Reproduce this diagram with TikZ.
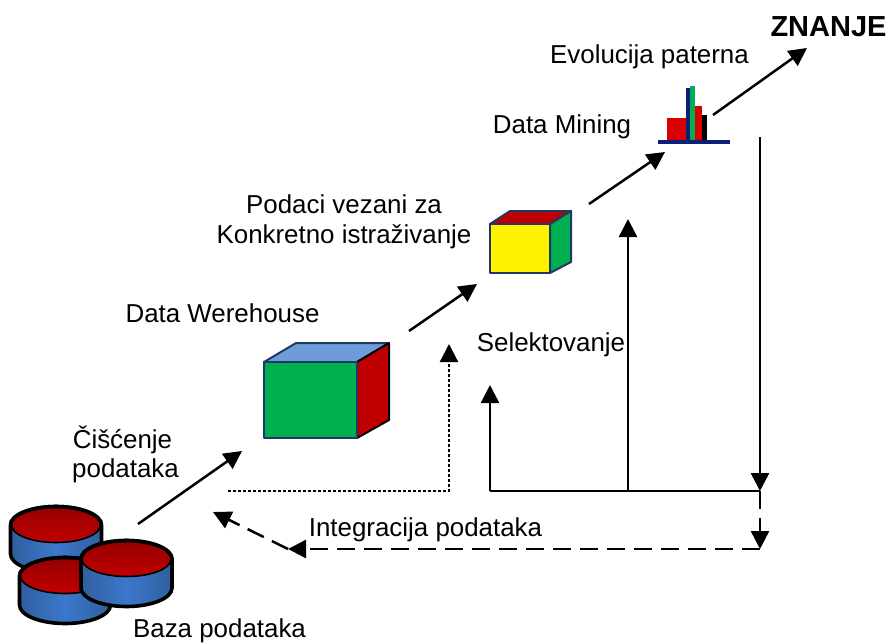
\documentclass[tikz,border=0pt]{standalone}
\usepackage{fontspec}
\setmainfont{Liberation Sans}
\usetikzlibrary{arrows.meta}
\definecolor{cgreen}{HTML}{00B050}
\definecolor{cred}{HTML}{C00000}
\definecolor{cblue}{HTML}{6F9BD8}
\definecolor{cedge}{HTML}{1F3864}
\definecolor{cyan1}{HTML}{2F5F9E}
\definecolor{cyan2}{HTML}{3B78CC}
\definecolor{dred}{HTML}{960000}
\definecolor{navy1}{HTML}{0B1F7A}
\tikzset{
  lbl/.style={inner sep=0pt,anchor=base,font=\fontsize{25.9}{30}\selectfont},
  conn/.style={line width=2.5pt,-{Triangle[length=18pt,width=18pt]}},
  plainline/.style={line width=2.5pt},
  dashline/.style={line width=2.5pt,dash pattern=on 18pt off 9pt},
  dotline/.style={line width=2.2pt,dash pattern=on 3pt off 2pt},
  tipdown/.style={-{Triangle[length=18pt,width=18pt]}},
  faceedge/.style={draw=cedge,line width=2pt,line join=round},
  cyl/.pic={
    \path[draw=black,line width=3.6pt,left color=cyan1,right color=cyan1,middle color=cyan2]
      (-45.5,0) -- (-45.5,29) arc[start angle=180,end angle=0,x radius=45.5,y radius=18.5]
      -- (45.5,0) arc[start angle=0,end angle=-180,x radius=45.5,y radius=18.5] -- cycle;
    \path[draw=black,line width=1.6pt,top color=dred,bottom color=cred]
      (0,0) ellipse[x radius=44.5,y radius=17.5];
    \draw[black,line width=3.6pt] (-45.5,0) arc[start angle=180,end angle=360,x radius=45.5,y radius=18.5];
  }
}
\begin{document}
\begin{tikzpicture}[x=1pt,y=-1pt]
\useasboundingbox (0,0) rectangle (889,643);
% databases
\pic at (56,525) {cyl};
\pic at (65,576) {cyl};
\pic at (126.5,559) {cyl};
% big cube
\path[faceedge,fill=cblue] (264,362) -- (296,343) -- (389,343) -- (357,362) -- cycle;
\path[faceedge,fill=cred,draw=black] (357,362) -- (389,343) -- (389,420) -- (357,438) -- cycle;
\path[faceedge,fill=cgreen] (264,362) rectangle (357,438);
% small cube
\path[faceedge,fill=cred] (490,224) -- (510,211) -- (571,211) -- (550,224) -- cycle;
\path[faceedge,fill=cgreen] (550,224) -- (571,211) -- (571,262) -- (550,273) -- cycle;
\path[faceedge,fill=yellow] (490,224) rectangle (550,273);
% chart
\fill[cred!60!red] (667,118) rectangle (686,141);
\fill[cred!60!red] (695,106) rectangle (702,141);
\fill[black] (702,115) rectangle (707,141);
\fill[cgreen] (690,86) rectangle (695,141);
\fill[navy1] (686,88) rectangle (690,141);
\fill[navy1] (658,140) rectangle (730,144);
% labels
\node[lbl,font=\fontsize{29}{34}\selectfont\bfseries] (lz) at (828.5,36) {ZNANJE};
\node[lbl] (le) at (649.5,63) {Evolucija paterna};
\node[lbl] (ld) at (562,133) {Data Mining};
\node[lbl] (lp1) at (344,213) {Podaci vezani za};
\node[lbl] (lp2) at (344,243) {Konkretno istraživanje};
\node[lbl] (lw) at (222.5,322) {Data Werehouse};
\node[lbl] (ls) at (551,351) {Selektovanje};
\node[lbl] (lc1) at (122.5,448) {Čišćenje};
\node[lbl] (lc2) at (125.5,477) {podataka};
\node[lbl] (li) at (425.5,536) {Integracija podataka};
\node[lbl] (lb) at (219.5,637.5) {Baza podataka};
% connector ends
\coordinate (a1) at (138,524); \coordinate (a2) at (242,451);
\coordinate (b1) at (409,331); \coordinate (b2) at (477,284);
\coordinate (c1) at (589,204); \coordinate (c2) at (665,152);
\coordinate (d1) at (713,115); \coordinate (d2) at (807,48);
\coordinate (v1) at (760,137); \coordinate (v2) at (760,491);
\coordinate (v3) at (760,549); \coordinate (v4) at (288,549);
\coordinate (v5) at (213,512);
\coordinate (h1) at (490,491); \coordinate (h2) at (628,491);
\coordinate (h3) at (490,385); \coordinate (h4) at (628,219);
\coordinate (o1) at (228,491); \coordinate (o2) at (449,491); \coordinate (o3) at (449,344);
% connectors
\draw[conn] (a1) -- (a2);
\draw[conn] (b1) -- (b2);
\draw[conn] (c1) -- (c2);
\draw[conn] (d1) -- (d2);
\draw[conn] (v1) -- (v2);
\draw[plainline] (h1) -- (v2);
\draw[conn] (h1) -- (h3);
\draw[conn] (h2) -- (h4);
\draw[dashline,tipdown] (v2) -- (v3);
\draw[dashline,tipdown] (v3) -- (v4);
\draw[dashline,tipdown] (v4) -- (v5);
\draw[dotline,-{Triangle[length=18pt,width=18pt]}] (o1) -- (o2) -- (o3);
\end{tikzpicture}
\end{document}
